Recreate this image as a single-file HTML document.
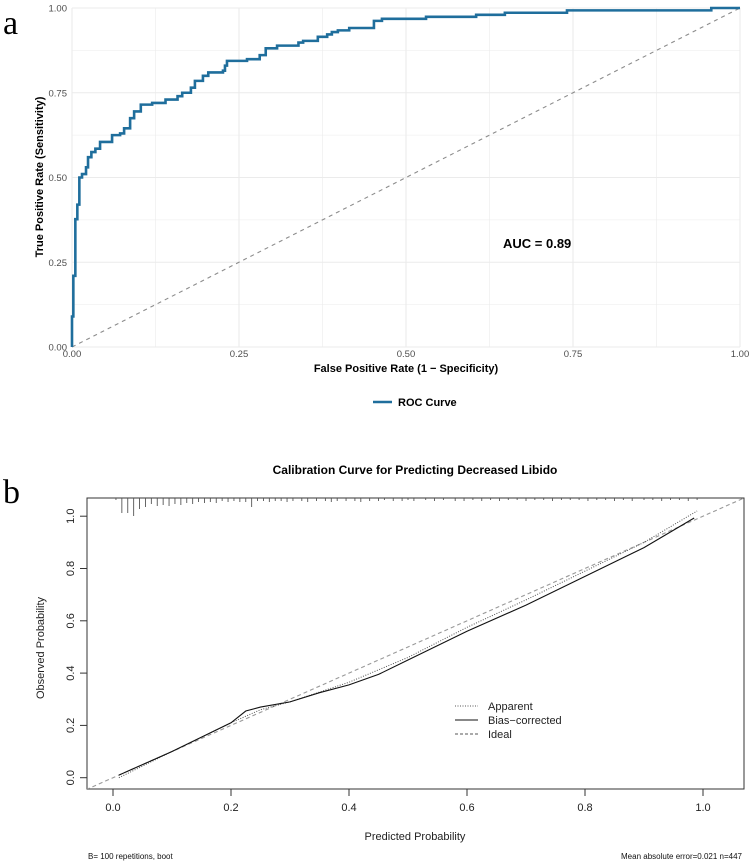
<!DOCTYPE html>
<html><head><meta charset="utf-8"><style>
body{margin:0;background:#fff;}
svg{display:block;font-family:"Liberation Sans",sans-serif;}
</style></head><body>
<svg id="s" width="755" height="862" xmlns="http://www.w3.org/2000/svg">
<text x="3" y="34" font-family="Liberation Serif,serif" font-size="34">a</text>
<text x="3" y="503" font-family="Liberation Serif,serif" font-size="34">b</text>
<g id="roc"></g>
<g id="cal"></g>
</svg>
<script>
// ROC data
const rocFpr=[0,0,0.002,0.002,0.005,0.005,0.008,0.008,0.011,0.011,0.015,0.015,0.021,0.021,0.024,0.024,0.029,0.029,0.035,0.035,0.042,0.042,0.06,0.06,0.072,0.072,0.078,0.078,0.087,0.087,0.093,0.093,0.103,0.103,0.12,0.12,0.14,0.14,0.158,0.158,0.165,0.165,0.178,0.178,0.184,0.184,0.196,0.196,0.204,0.204,0.226,0.226,0.229,0.229,0.232,0.232,0.262,0.262,0.281,0.281,0.29,0.29,0.307,0.307,0.339,0.339,0.346,0.346,0.368,0.368,0.382,0.382,0.389,0.389,0.398,0.398,0.415,0.415,0.452,0.452,0.464,0.464,0.53,0.53,0.605,0.605,0.648,0.648,0.741,0.741,0.957,0.957,1];
const rocTpr=[0,0.09,0.09,0.21,0.21,0.377,0.377,0.42,0.42,0.5,0.5,0.51,0.51,0.53,0.53,0.56,0.56,0.575,0.575,0.585,0.585,0.605,0.605,0.625,0.625,0.63,0.63,0.645,0.645,0.675,0.675,0.695,0.695,0.715,0.715,0.72,0.72,0.73,0.73,0.74,0.74,0.75,0.75,0.765,0.765,0.785,0.785,0.8,0.8,0.81,0.81,0.815,0.815,0.83,0.83,0.844,0.844,0.849,0.849,0.861,0.861,0.881,0.881,0.889,0.889,0.898,0.898,0.903,0.903,0.915,0.915,0.922,0.922,0.929,0.929,0.934,0.934,0.941,0.941,0.962,0.962,0.968,0.968,0.974,0.974,0.98,0.98,0.986,0.986,0.993,0.993,1,1];
const rocTicks=[0,0.25,0.5,0.75,1];
const rocTickLabels=["0.00","0.25","0.50","0.75","1.00"];
// Calibration data
const calPred=[0.01,0.1,0.2,0.225,0.25,0.3,0.35,0.4,0.45,0.5,0.6,0.7,0.8,0.9,0.985];
const calBias=[0.01,0.1,0.21,0.255,0.27,0.29,0.325,0.355,0.395,0.45,0.56,0.66,0.77,0.88,0.993];
const calApparentPred=[0.01,0.1,0.2,0.25,0.3,0.4,0.5,0.6,0.7,0.8,0.9,0.99];
const calApparent=[0,0.1,0.21,0.26,0.29,0.365,0.46,0.575,0.68,0.79,0.9,1.02];
const calTicks=[0,0.2,0.4,0.6,0.8,1];
const calTickLabels=["0.0","0.2","0.4","0.6","0.8","1.0"];
const rugPred=[0.005,0.015,0.025,0.035,0.045,0.055,0.065,0.075,0.085,0.095,0.105,0.115,0.125,0.135,0.145,0.155,0.165,0.175,0.185,0.195,0.205,0.215,0.225,0.235,0.245,0.255,0.265,0.275,0.285,0.295,0.305,0.32,0.33,0.345,0.36,0.37,0.38,0.395,0.41,0.42,0.435,0.45,0.46,0.475,0.49,0.5,0.51,0.53,0.545,0.56,0.58,0.595,0.61,0.625,0.64,0.655,0.67,0.685,0.7,0.715,0.73,0.745,0.76,0.775,0.79,0.805,0.82,0.835,0.85,0.865,0.88,0.9,0.915,0.93,0.945,0.96,0.975,0.99];
const rugLen=[1,14,14,17,10,8,5,7,6,7,5,6,4,5,3,4,3,4,2,3,2,3,3,8,2,2,3,2,2,3,2,2,3,2,2,3,2,2,2,3,2,2,1,2,2,1,2,1,2,1,2,2,1,2,1,2,1,1,2,1,1,2,1,1,1,2,1,1,2,1,2,1,1,2,1,1,2,1];

const NS="http://www.w3.org/2000/svg";
function mk(p,t,a){const e=document.createElementNS(NS,t);for(const k in a)e.setAttribute(k,a[k]);p.appendChild(e);return e;}

// ROC
const roc=document.getElementById('roc');
const rx=v=>72+v*668, ry=v=>347-v*339;
for(let i=0;i<=8;i++){const v=i/8;const w=i%2?0.6:1.1;
 let l=mk(roc,'line',{x1:rx(v),x2:rx(v),y1:ry(0),y2:ry(1),stroke:'#ebebeb','stroke-width':w});
 
 
 l=mk(roc,'line',{x1:rx(0),x2:rx(1),y1:ry(v),y2:ry(v),stroke:'#ebebeb','stroke-width':w});
 
 }
rocTicks.forEach((v,i)=>{
 let t=mk(roc,'text',{x:rx(v),y:357,'text-anchor':'middle','font-size':9.5,fill:'#4d4d4d'});t.textContent=rocTickLabels[i];
 
 
 t=mk(roc,'text',{x:67,y:ry(v)+3.5,'text-anchor':'end','font-size':9.5,fill:'#4d4d4d'});t.textContent=rocTickLabels[i];
 
 });
let d=mk(roc,'line',{x1:rx(0),y1:ry(0),x2:rx(1),y2:ry(1),stroke:'#8c8c8c','stroke-width':1.1,'stroke-dasharray':'4,4'});


let rp=mk(roc,'polyline',{points:rocFpr.map((f,i)=>rx(f)+','+ry(rocTpr[i])).join(' '),fill:'none',stroke:'#1f6e9c','stroke-width':2.6});


let tt=mk(roc,'text',{x:503,y:248,'font-size':13,'font-weight':'bold'});tt.textContent='AUC = 0.89';


tt=mk(roc,'text',{x:406,y:372,'text-anchor':'middle','font-size':11,'font-weight':'bold'});tt.textContent='False Positive Rate (1 − Specificity)';


tt=mk(roc,'text',{x:0,y:0,'text-anchor':'middle','font-size':11,'font-weight':'bold',transform:'translate(43,177) rotate(-90)'});tt.textContent='True Positive Rate (Sensitivity)';


let lg=mk(roc,'line',{x1:373,x2:392,y1:402,y2:402,stroke:'#1f6e9c','stroke-width':2.6});


tt=mk(roc,'text',{x:398,y:406,'font-size':11,'font-weight':'bold'});tt.textContent='ROC Curve';



// Calibration
const cal=document.getElementById('cal');
const cx=v=>113+v*590, cy=v=>777.7-v*261.5;
tt=mk(cal,'text',{x:415,y:474,'text-anchor':'middle','font-size':12,'font-weight':'bold'});tt.textContent='Calibration Curve for Predicting Decreased Libido';


let clip=mk(cal,'clipPath',{id:'cb'});mk(clip,'rect',{x:87,y:498,width:657,height:291});
let bx=mk(cal,'rect',{x:87,y:498,width:657,height:291,fill:'none',stroke:'#333','stroke-width':1});


calTicks.forEach((v,i)=>{
 let l=mk(cal,'line',{x1:cx(v),x2:cx(v),y1:789,y2:796,stroke:'#333'});
 
 
 let t=mk(cal,'text',{x:cx(v),y:811,'text-anchor':'middle','font-size':11,fill:'#222'});t.textContent=calTickLabels[i];
 
 
 l=mk(cal,'line',{x1:80,x2:87,y1:cy(v),y2:cy(v),stroke:'#333'});
 
 
 t=mk(cal,'text',{x:0,y:0,'text-anchor':'middle','font-size':11,fill:'#222',transform:`translate(74,${cy(v)}) rotate(-90)`});t.textContent=calTickLabels[i];
 
 });
rugPred.forEach((v,i)=>{let l=mk(cal,'line',{x1:cx(v),x2:cx(v),y1:498,y2:498+1+rugLen[i]*1.0,stroke:'#555','stroke-width':0.9});
 
 });
d=mk(cal,'line',{x1:cx(-0.1),y1:cy(-0.1),x2:cx(1.1),y2:cy(1.1),stroke:'#999','stroke-width':1.1,'stroke-dasharray':'4,3','clip-path':'url(#cb)'});


let ap=mk(cal,'polyline',{points:calApparentPred.map((p,i)=>cx(p)+','+cy(calApparent[i])).join(' '),fill:'none',stroke:'#555','stroke-width':1,'stroke-dasharray':'1,1.5'});


let bc=mk(cal,'polyline',{points:calPred.map((p,i)=>cx(p)+','+cy(calBias[i])).join(' '),fill:'none',stroke:'#111','stroke-width':1.1});


const legs=[['Apparent','1,1.5','#555'],['Bias−corrected','none','#111'],['Ideal','3,2','#555']];
legs.forEach((g,i)=>{const y=706+i*14;
 let l=mk(cal,'line',{x1:455,x2:478,y1:y,y2:y,stroke:g[2],'stroke-width':1,'stroke-dasharray':g[1]});
 
 
 let t=mk(cal,'text',{x:488,y:y+4,'font-size':11,fill:'#222'});t.textContent=g[0];
 
 });
tt=mk(cal,'text',{x:415,y:840,'text-anchor':'middle','font-size':11,fill:'#222'});tt.textContent='Predicted Probability';


tt=mk(cal,'text',{x:0,y:0,'text-anchor':'middle','font-size':11,fill:'#222',transform:'translate(44,648) rotate(-90)'});tt.textContent='Observed Probability';


tt=mk(cal,'text',{x:88,y:859,'font-size':8,fill:'#111'});tt.textContent='B= 100 repetitions, boot';


tt=mk(cal,'text',{x:742,y:859,'text-anchor':'end','font-size':8,fill:'#111'});tt.textContent='Mean absolute error=0.021 n=447';


</script>
</body></html>
